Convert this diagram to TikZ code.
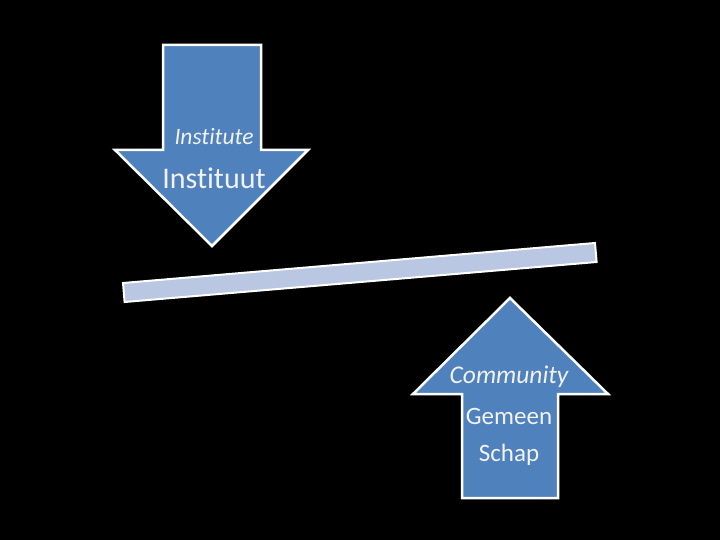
\documentclass[tikz,border=0pt]{standalone}
\usepackage{fontspec}
\setmainfont[Ligatures=NoCommon,RawFeature=-liga]{Carlito}
\begin{document}
\begin{tikzpicture}[x=1pt,y=-1pt,
  arrowshape/.style={fill={rgb,255:red,79;green,129;blue,189}, draw=white, line width=2.5pt, line join=miter},
  barshape/.style={fill={rgb,255:red,185;green,199;blue,227}, draw=white, line width=2pt},
  lbl/.style={text={rgb,255:red,242;green,242;blue,242}, inner sep=0pt, anchor=center}]
\fill[black] (0,0) rectangle (720,540);
\useasboundingbox (0,0) rectangle (720,540);
% down arrow
\draw[arrowshape] (163,45) -- (261,45) -- (261,150) -- (308,150) -- (212,246) -- (115,150) -- (163,150) -- cycle;
% bar
\draw[barshape] (123,283) -- (595,243) -- (596.6,262) -- (124.6,302) -- cycle;
% up arrow
\draw[arrowshape] (510,298) -- (608,394) -- (558,394) -- (558,498) -- (462,498) -- (462,394) -- (413,394) -- cycle;
% labels
\node[lbl, font=\fontsize{23.5}{23.5}\selectfont\itshape] (inst) at (214,137) {Institute};
\node[lbl, font=\fontsize{30}{30}\selectfont] (instituut) at (214,178) {Instituut};
\node[lbl, font=\fontsize{25.5}{25.5}\selectfont\itshape] (comm) at (509,377) {Community};
\node[lbl, font=\fontsize{25}{25}\selectfont] (gem) at (509,416) {Gemeen};
\node[lbl, font=\fontsize{25}{25}\selectfont] (schap) at (509,455) {Schap};
\end{tikzpicture}
\end{document}
